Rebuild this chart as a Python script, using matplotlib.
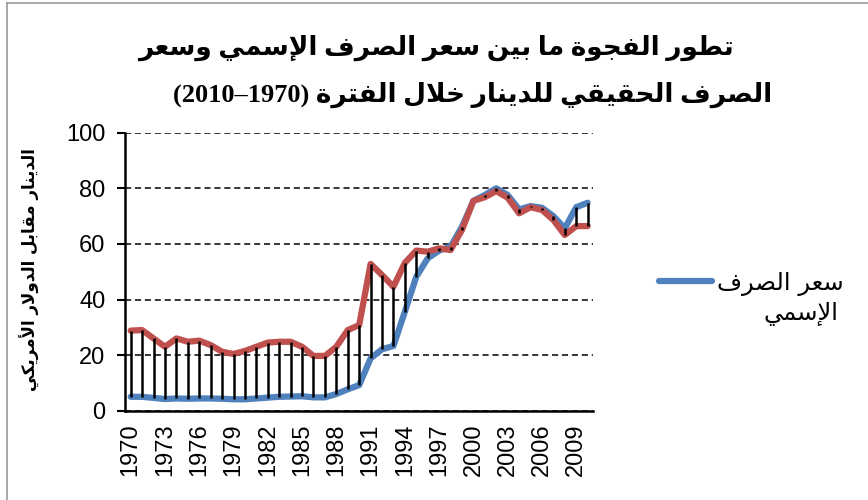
import matplotlib
matplotlib.use('Agg')
import matplotlib.pyplot as plt
from matplotlib.lines import Line2D
import numpy as np

# Data (1970-2010)
years = list(range(1970, 2011))
nominal = [5.0, 5.0, 4.6, 4.2, 4.4, 4.3, 4.4, 4.4, 4.3, 4.1,
           4.1, 4.4, 4.7, 5.0, 5.1, 5.2, 4.8, 4.8, 6.0, 7.7,
           9.2, 18.8, 22.1, 23.3, 35.6, 48.2, 54.8, 57.6, 59.0, 66.2,
           75.5, 77.6, 80.0, 77.6, 72.4, 73.6, 73.0, 70.0, 65.6, 73.2,
           74.8]
real = [28.8, 29.0, 26.0, 23.0, 26.0, 24.8, 25.2, 23.6, 21.2, 20.4,
        21.5, 23.0, 24.5, 24.8, 24.8, 23.0, 19.7, 19.7, 23.0, 29.0,
        30.8, 52.8, 48.8, 44.6, 53.2, 57.6, 57.2, 58.4, 57.8, 65.0,
        75.5, 76.8, 79.0, 76.6, 71.0, 73.2, 72.2, 68.6, 63.2, 66.4,
        66.4]
yticks = [0, 20, 40, 60, 80, 100]

# Minimal Arabic shaping (presentation forms) + reversal for visual order
ISO = {'آ': 0xFE81, 'أ': 0xFE83, 'ؤ': 0xFE85, 'إ': 0xFE87, 'ئ': 0xFE89, 'ا': 0xFE8D,
       'ب': 0xFE8F, 'ة': 0xFE93, 'ت': 0xFE95, 'ث': 0xFE99, 'ج': 0xFE9D, 'ح': 0xFEA1,
       'خ': 0xFEA5, 'د': 0xFEA9, 'ذ': 0xFEAB, 'ر': 0xFEAD, 'ز': 0xFEAF, 'س': 0xFEB1,
       'ش': 0xFEB5, 'ص': 0xFEB9, 'ض': 0xFEBD, 'ط': 0xFEC1, 'ظ': 0xFEC5, 'ع': 0xFEC9,
       'غ': 0xFECD, 'ف': 0xFED1, 'ق': 0xFED5, 'ك': 0xFED9, 'ل': 0xFEDD, 'م': 0xFEE1,
       'ن': 0xFEE5, 'ه': 0xFEE9, 'و': 0xFEED, 'ى': 0xFEEF, 'ي': 0xFEF1}
RIGHT_ONLY = set('آأؤإادذرزوةى') | {'LA'}
LAM_ALEF = {'آ': 0xFEF5, 'أ': 0xFEF7, 'إ': 0xFEF9, 'ا': 0xFEFB}


def ar(s):
    items = []
    i = 0
    while i < len(s):
        c = s[i]
        if c == 'ل' and i + 1 < len(s) and s[i + 1] in LAM_ALEF:
            items.append(('LA', LAM_ALEF[s[i + 1]]))
            i += 2
        else:
            items.append((c, ISO.get(c)))
            i += 1
    out = []
    for k, (c, base) in enumerate(items):
        if base is None:
            out.append(c)
            continue
        prev = items[k - 1] if k > 0 else None
        nxt = items[k + 1] if k + 1 < len(items) else None
        jp = prev is not None and prev[1] is not None and prev[0] not in RIGHT_ONLY
        jn = c not in RIGHT_ONLY and nxt is not None and nxt[1] is not None
        if jp and jn:
            cp = base + 3
        elif jp:
            cp = base + 1
        elif jn:
            cp = base + 2
        else:
            cp = base
        out.append(chr(cp))
    return ''.join(reversed(out))


title1 = ar('تطور الفجوة ما بين سعر الصرف الإسمي وسعر')
title2 = '(2010–1970) ' + ar('الصرف الحقيقي للدينار خلال الفترة')
ylab = ar('الدينار مقابل الدولار الأمريكي')
leg1 = ar('سعر الصرف')
leg2 = ar('الإسمي')

blue = '#4F81BD'
red = '#C0504D'

fig = plt.figure(figsize=(8.68, 5.0), dpi=100)
ax = fig.add_axes([0.144, 0.1786, 0.5396, 0.556])

x = np.arange(len(years))
ax.plot(x, nominal, color=blue, lw=4.5, solid_capstyle='round', zorder=3, label=leg1)
ax.plot(x, real, color=red, lw=4.5, solid_capstyle='round', zorder=3.5)
ax.vlines(x, nominal, real, color='black', lw=1.8, zorder=4)

ax.set_xlim(-0.5, len(years) - 0.5)
ax.set_ylim(0, 100)
ax.set_yticks(yticks)
ax.set_xticks(x[::3])
ax.set_xticklabels([str(y) for y in years[::3]], rotation=90,
                   fontsize=17, family='Liberation Sans')
ax.tick_params(axis='x', length=0, pad=9)
ax.tick_params(axis='y', length=6, width=1.5, pad=8, labelsize=17)
for t in ax.get_yticklabels():
    t.set_family('Liberation Sans')
ax.grid(axis='y', color='black', linestyle=(0, (4, 2.5)), lw=1.1)
ax.set_axisbelow(True)
for s in ['top', 'right']:
    ax.spines[s].set_visible(False)
for s in ['left', 'bottom']:
    ax.spines[s].set_linewidth(1.8)

fig.text(0.502, 0.904, title1, ha='center', va='center', fontsize=19,
         weight='bold', family=['Liberation Serif', 'DejaVu Sans'])
fig.text(0.89, 0.81, title2, ha='right', va='center', fontsize=19,
         weight='bold', family=['Liberation Serif', 'DejaVu Sans'])
fig.text(0.035, 0.46, ylab, ha='center', va='center', rotation=90,
         fontsize=12, weight='bold', family='DejaVu Sans')

leg = fig.legend(loc='center left', bbox_to_anchor=(0.734, 0.434), frameon=False,
                 handlelength=2.2, handletextpad=0.2,
                 prop={'family': 'DejaVu Sans', 'size': 17.5})
fig.text(0.966, 0.372, leg2, ha='right', va='center', fontsize=17.5, family='DejaVu Sans')

# light frame around the chart area
fig.add_artist(Line2D([0.008, 0.008], [0, 0.994], color='#999999', lw=1.2))
fig.add_artist(Line2D([0.008, 1], [0.994, 0.994], color='#999999', lw=1.2))

fig.savefig('out.png', dpi=100)
